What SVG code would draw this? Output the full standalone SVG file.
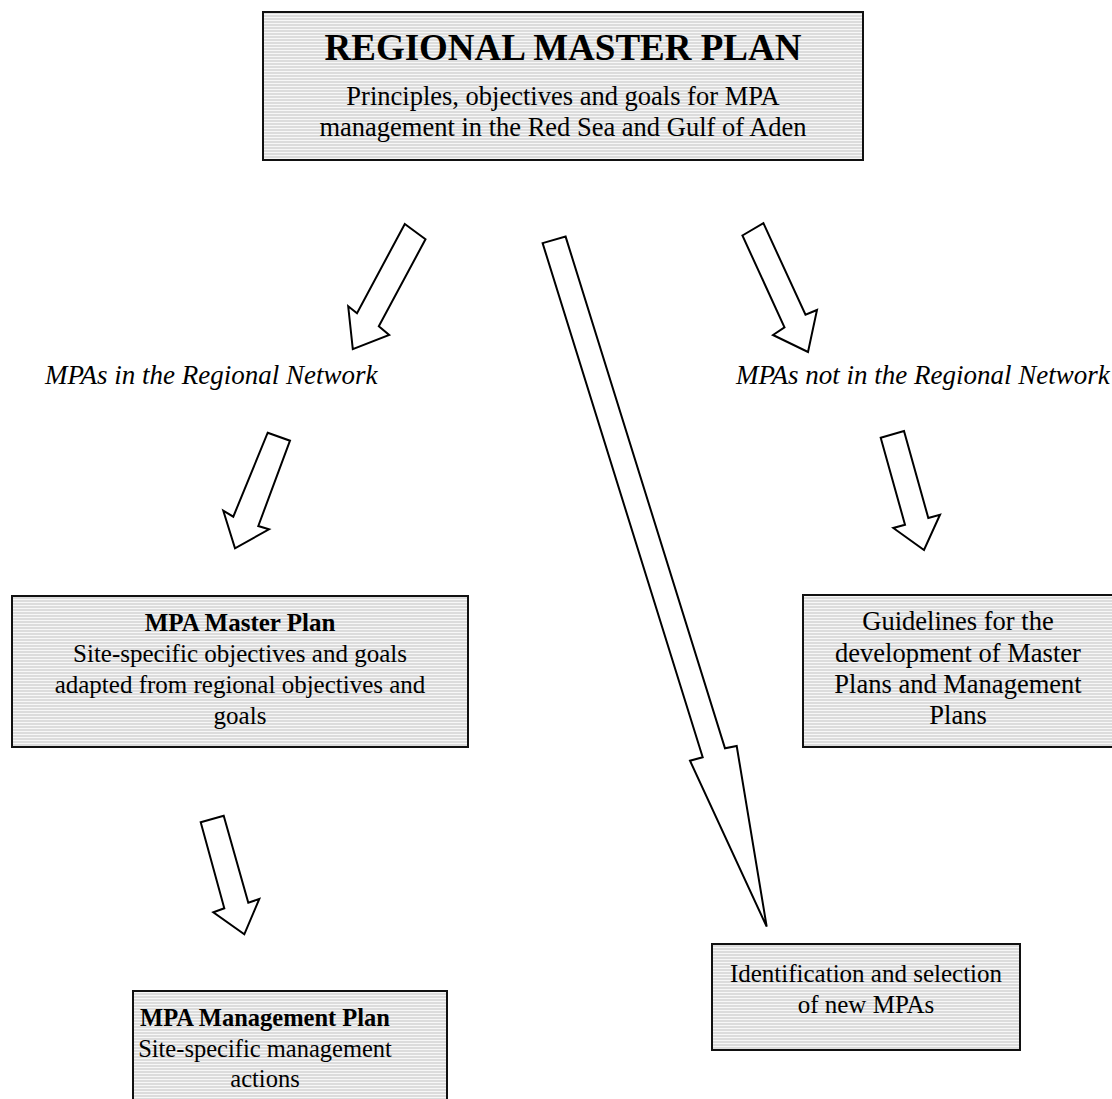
<svg xmlns="http://www.w3.org/2000/svg" width="1112" height="1099" viewBox="0 0 1112 1099">
<defs>
<pattern id="stripes" patternUnits="userSpaceOnUse" width="8" height="3">
<rect width="8" height="3" fill="#dcdcdc"/>
<rect y="2" width="8" height="1" fill="#f7f7f7"/>
</pattern>
<style>
.box{fill:url(#stripes);stroke:#111;stroke-width:2}
.t{font-family:"Liberation Serif","Times New Roman",serif;fill:#000;text-anchor:middle}
.b{font-weight:bold}
.lbl{font-family:"Liberation Serif","Times New Roman",serif;font-style:italic;fill:#000;font-size:27px}
.arr{fill:#fff;stroke:#000;stroke-width:2;stroke-linejoin:miter}
</style>
</defs>
<rect width="1112" height="1099" fill="#fff"/>

<g id="connectors">
<polygon class="arr" points="404.8,224 425.5,239.3 378.8,326.2 389.2,335 352.8,349.2 348.2,306.3 357,313.2"/>
<polygon class="arr" points="542.6,243.1 565.6,236.6 725,748.3 736.7,746 766.7,926.7 690,760.7 702.7,757.3"/>
<polygon class="arr" points="742.4,235.5 763.4,223.2 805.5,314.7 817,310 808,352 773,335 784.5,327.3"/>
<polygon class="arr" points="267.7,432.7 290,440.7 258.3,526 269,529.3 235,548.3 223.3,510.7 233.3,516.7"/>
<polygon class="arr" points="880.7,437.7 904,431 928.3,518 940,514.7 924,550 893.3,528 905,524.7"/>
<polygon class="arr" points="200.7,822.3 223.7,815.7 248.3,902.7 259.3,899 244.3,934.3 213.3,912.3 224.3,908.3"/>
</g>

<g id="regional-master-plan">
<rect class="box" x="263" y="12" width="600" height="148"/>
<text class="t b" x="563" y="60" font-size="37">REGIONAL MASTER PLAN</text>
<text class="t" x="563" y="105" font-size="26.5">Principles, objectives and goals for MPA</text>
<text class="t" x="563" y="136" font-size="26.5">management in the Red Sea and Gulf of Aden</text>
</g>

<g id="label-in-network">
<text class="lbl" x="45" y="384">MPAs in the Regional Network</text>
</g>

<g id="label-not-in-network">
<text class="lbl" x="736" y="384">MPAs not in the Regional Network</text>
</g>

<g id="mpa-master-plan">
<rect class="box" x="12" y="596" width="456" height="151"/>
<text class="t b" x="240" y="631" font-size="25">MPA Master Plan</text>
<text class="t" x="240" y="662" font-size="25">Site-specific objectives and goals</text>
<text class="t" x="240" y="693" font-size="25">adapted from regional objectives and</text>
<text class="t" x="240" y="724" font-size="25">goals</text>
</g>

<g id="guidelines">
<rect class="box" x="803" y="595" width="330" height="152"/>
<text class="t" x="958" y="630" font-size="26.5">Guidelines for the</text>
<text class="t" x="958" y="662" font-size="26.5">development of Master</text>
<text class="t" x="958" y="693" font-size="26.5">Plans and Management</text>
<text class="t" x="958" y="724" font-size="26.5">Plans</text>
</g>

<g id="identification">
<rect class="box" x="712" y="944" width="308" height="106"/>
<text class="t" x="866" y="982" font-size="25">Identification and selection</text>
<text class="t" x="866" y="1013" font-size="25">of new MPAs</text>
</g>

<g id="mpa-management-plan">
<rect class="box" x="133" y="991" width="314" height="110"/>
<text class="t b" x="265" y="1026" font-size="24.5">MPA Management Plan</text>
<text class="t" x="265" y="1057" font-size="24.5">Site-specific management</text>
<text class="t" x="265" y="1087" font-size="24.5">actions</text>
</g>
</svg>
